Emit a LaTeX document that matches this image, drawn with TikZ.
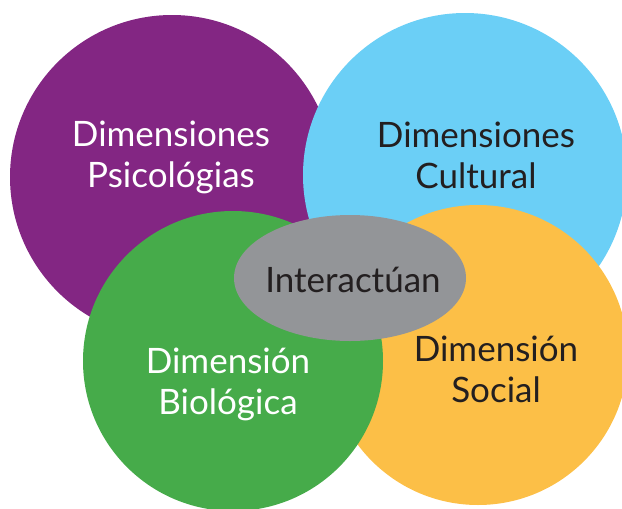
\documentclass[tikz,border=0pt]{standalone}
\usepackage{fontspec}
\setmainfont{Lato}
\definecolor{cpurple}{RGB}{131,38,131}
\definecolor{cblue}{RGB}{107,207,246}
\definecolor{cgreen}{RGB}{70,171,74}
\definecolor{cyellow}{RGB}{252,191,71}
\definecolor{cgrey}{RGB}{147,149,152}
\definecolor{cdark}{RGB}{35,31,32}
\tikzset{
  lbl/.style={align=center, inner sep=0pt, font=\fontsize{35}{41}\selectfont},
  lightlbl/.style={lbl, text=white},
  darklbl/.style={lbl, text=cdark}
}
\begin{document}
\begin{tikzpicture}[x=1pt,y=-1pt]
\useasboundingbox (0,0) rectangle (622,509);
\begin{scope}
\clip (0,0) rectangle (622,509);
\fill[cpurple] (172,177) circle (162);
\fill[cblue] (465,175) circle (162);
\fill[cyellow] (478,355) circle (150);
\fill[cgreen] (233,361) circle (150);
\fill[cgrey] (350,278) ellipse [x radius=116, y radius=63];
\end{scope}
\node[lightlbl] (psi) at (171,157) {Dimensiones\\Psicológias};
\node[darklbl] (cul) at (476,155) {Dimensiones\\Cultural};
\node[lightlbl] (bio) at (228,384) {Dimensión\\Biológica};
\node[darklbl] (soc) at (496,369) {Dimensión\\Social};
\node[darklbl, anchor=base] (int) at (353,292) {Interactúan};
\end{tikzpicture}
\end{document}
